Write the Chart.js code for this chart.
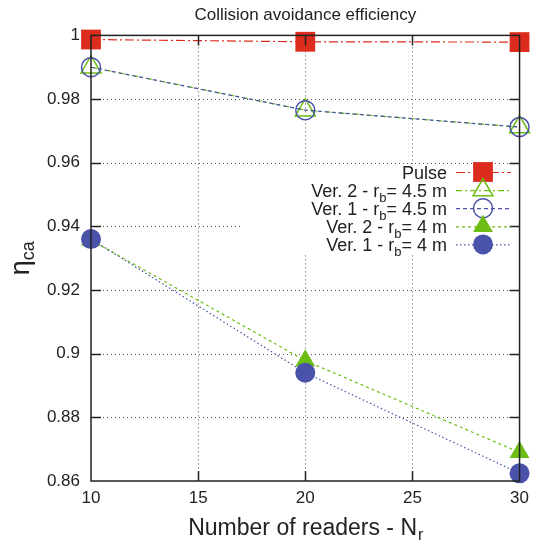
<!DOCTYPE html>
<html><head><meta charset="utf-8">
<script src="https://cdn.jsdelivr.net/npm/chart.js@4.4.1/dist/chart.umd.min.js"></script>
<style>html,body{margin:0;padding:0;background:#fff}#wrap{width:536px;height:543px}</style>
</head><body><div id="wrap"><canvas id="c" width="536" height="543"></canvas></div>
<script>
const readers = [10, 20, 30];
const pulse = [0.9987, 0.998, 0.9979];
const ver2_45 = [0.99, 0.9765, 0.9712];
const ver1_45 = [0.99, 0.9765, 0.9712];
const ver2_4 = [0.9357, 0.8978, 0.869];
const ver1_4 = [0.936, 0.894, 0.8624];
const xTicks = [10, 15, 20, 25, 30];
const yTicks = [0.86, 0.88, 0.9, 0.92, 0.94, 0.96, 0.98, 1];
const yTickLabels = ['0.86', '0.88', '0.9', '0.92', '0.94', '0.96', '0.98', '1'];
const labelMain = ['Pulse', 'Ver. 2 - r', 'Ver. 1 - r', 'Ver. 2 - r', 'Ver. 1 - r'];
const labelSub = ['', 'b', 'b', 'b', 'b'];
const labelTail = ['', '= 4.5 m', '= 4.5 m', '= 4 m', '= 4 m'];
const titleText = 'Collision avoidance efficiency';
const xTitleMain = 'Number of readers - N';
const xTitleSub = 'r';
const yTitleMain = 'η';
const yTitleSub = 'ca';

const FONT = "'Liberation Sans', Arial, Helvetica, sans-serif";
const RED = '#dc2c1e', GREEN = '#6cbd14', BLUE = '#4a52aa';

const styles = [
  {color: RED, dash: [9, 3, 2, 3], point: 'rect', r: 14, fill: RED, bw: 0},
  {color: GREEN, dash: [6, 3, 2, 3], point: 'triangle', r: 11.5, fill: 'rgba(0,0,0,0)', bw: 1.5},
  {color: BLUE, dash: [4, 3], point: 'circle', r: 9.5, fill: 'rgba(0,0,0,0)', bw: 1.5},
  {color: GREEN, dash: [3, 3], point: 'triangle', r: 11.5, fill: GREEN, bw: 0},
  {color: BLUE, dash: [1.5, 2.5], point: 'circle', r: 10, fill: BLUE, bw: 0}
];
const seriesValues = [pulse, ver2_45, ver1_45, ver2_4, ver1_4];

function drawMarker(ctx, s, x, y) {
  ctx.save();
  ctx.setLineDash([]);
  ctx.beginPath();
  if (s.point === 'rect') {
    const h = Math.SQRT1_2 * s.r;
    ctx.rect(x - h, y - h, 2 * h, 2 * h);
  } else if (s.point === 'triangle') {
    for (let k = 0; k < 3; k++) {
      const a = k * 2 * Math.PI / 3;
      const px = x + Math.sin(a) * s.r, py = y - Math.cos(a) * s.r;
      if (k === 0) ctx.moveTo(px, py); else ctx.lineTo(px, py);
    }
    ctx.closePath();
  } else {
    ctx.arc(x, y, s.r, 0, Math.PI * 2);
  }
  ctx.fillStyle = s.fill;
  ctx.fill();
  if (s.bw > 0) { ctx.lineWidth = s.bw; ctx.strokeStyle = s.color; ctx.stroke(); }
  ctx.restore();
}

const deco = {
  id: 'deco',
  beforeDatasetsDraw(chart) {
    const {ctx, chartArea: a, scales: {x, y}} = chart;
    ctx.save();
    ctx.strokeStyle = '#555';
    ctx.lineWidth = 1;
    ctx.setLineDash([1, 3]);
    xTicks.forEach(v => {
      if (v === x.min || v === x.max) return;
      const px = Math.round(x.getPixelForValue(v)) + 0.5;
      ctx.beginPath(); ctx.moveTo(px, a.top); ctx.lineTo(px, a.bottom); ctx.stroke();
    });
    yTicks.forEach(v => {
      if (Math.abs(v - y.min) < 1e-9 || Math.abs(v - y.max) < 1e-9) return;
      const py = Math.round(y.getPixelForValue(v)) + 0.5;
      ctx.beginPath(); ctx.moveTo(a.left, py); ctx.lineTo(a.right, py); ctx.stroke();
    });
    ctx.setLineDash([]);
    // opaque key box
    ctx.fillStyle = '#fff';
    ctx.fillRect(240, 164, a.right - 241, 90);
    ctx.restore();
  },
  afterDatasetsDraw(chart) {
    const {ctx, chartArea: a, scales: {x, y}} = chart;
    ctx.save();
    ctx.strokeStyle = '#222';
    ctx.lineWidth = 1.5;
    ctx.setLineDash([]);
    ctx.strokeRect(a.left, a.top, a.right - a.left, a.bottom - a.top);
    const tl = 10;
    xTicks.forEach(v => {
      if (v === x.min || v === x.max) return;
      const px = Math.round(x.getPixelForValue(v)) + 0.5;
      ctx.beginPath(); ctx.moveTo(px, a.bottom); ctx.lineTo(px, a.bottom - tl);
      ctx.moveTo(px, a.top); ctx.lineTo(px, a.top + tl); ctx.stroke();
    });
    yTicks.forEach(v => {
      if (Math.abs(v - y.min) < 1e-9 || Math.abs(v - y.max) < 1e-9) return;
      const py = Math.round(y.getPixelForValue(v)) + 0.5;
      ctx.beginPath(); ctx.moveTo(a.left, py); ctx.lineTo(a.left + tl, py);
      ctx.moveTo(a.right, py); ctx.lineTo(a.right - tl, py); ctx.stroke();
    });
    ctx.restore();
  },
  afterDraw(chart) {
    const {ctx, chartArea: a} = chart;
    ctx.save();
    // key
    const textRight = 447, lineL = 456, lineR = 511, markX = 483;
    const rowY0 = 172, rowStep = 18.1;
    ctx.fillStyle = '#222';
    ctx.textBaseline = 'alphabetic';
    ctx.textAlign = 'left';
    for (let i = 0; i < styles.length; i++) {
      const s = styles[i];
      const ry = rowY0 + i * rowStep;
      ctx.font = '18px ' + FONT;
      const w1 = ctx.measureText(labelMain[i]).width;
      const w3 = ctx.measureText(labelTail[i]).width;
      ctx.font = '13px ' + FONT;
      const w2 = labelSub[i] ? ctx.measureText(labelSub[i]).width : 0;
      const x0 = textRight - (w1 + w2 + w3);
      ctx.font = '18px ' + FONT;
      ctx.fillText(labelMain[i], x0, ry + 6.5);
      if (labelSub[i]) {
        ctx.font = '13px ' + FONT;
        ctx.fillText(labelSub[i], x0 + w1, ry + 12);
        ctx.font = '18px ' + FONT;
        ctx.fillText(labelTail[i], x0 + w1 + w2, ry + 6.5);
      }
      ctx.save();
      ctx.strokeStyle = s.color;
      ctx.lineWidth = 1.2;
      ctx.setLineDash(s.dash);
      ctx.beginPath(); ctx.moveTo(lineL, ry + 0.5); ctx.lineTo(lineR, ry + 0.5); ctx.stroke();
      ctx.restore();
      drawMarker(ctx, s, markX, ry);
    }
    // x axis title
    ctx.fillStyle = '#222';
    ctx.font = '23px ' + FONT;
    const xw1 = ctx.measureText(xTitleMain).width;
    ctx.font = '16px ' + FONT;
    const xw2 = ctx.measureText(xTitleSub).width;
    const cx = (a.left + a.right) / 2;
    const xs = cx - (xw1 + xw2) / 2;
    ctx.font = '23px ' + FONT;
    ctx.fillText(xTitleMain, xs, 535);
    ctx.font = '16px ' + FONT;
    ctx.fillText(xTitleSub, xs + xw1 + 1, 540);
    // y axis title
    ctx.save();
    ctx.translate(29, (a.top + a.bottom) / 2);
    ctx.rotate(-Math.PI / 2);
    ctx.font = '27px ' + FONT;
    const yw1 = ctx.measureText(yTitleMain).width;
    ctx.font = '18px ' + FONT;
    const yw2 = ctx.measureText(yTitleSub).width;
    const ys = -(yw1 + yw2) / 2;
    ctx.font = '27px ' + FONT;
    ctx.fillText(yTitleMain, ys, 0);
    ctx.font = '18px ' + FONT;
    ctx.fillText(yTitleSub, ys + yw1, 5);
    ctx.restore();
    ctx.restore();
  }
};

const orders = [5, 4, 3, 2, 1];
const datasets = seriesValues.map((vals, i) => {
  const s = styles[i];
  return {
    label: labelMain[i] + labelSub[i] + labelTail[i],
    data: readers.map((xv, j) => ({x: xv, y: vals[j]})),
    borderColor: s.color,
    borderWidth: 1.2,
    borderDash: s.dash,
    fill: false,
    tension: 0,
    pointStyle: s.point,
    pointRadius: s.r,
    pointHoverRadius: s.r,
    pointBackgroundColor: s.fill,
    pointBorderColor: s.color,
    pointBorderWidth: s.bw,
    order: orders[i],
    clip: false
  };
});

new Chart(document.getElementById('c'), {
  type: 'line',
  data: {datasets},
  options: {
    responsive: false,
    animation: false,
    devicePixelRatio: 1,
    layout: {padding: {left: 0, right: 14, top: 0, bottom: 0}},
    plugins: {
      legend: {display: false},
      tooltip: {enabled: false},
      title: {
        display: true, text: titleText, fullSize: false,
        font: {family: FONT, size: 17, weight: 'normal'}, color: '#222',
        padding: {top: 5, bottom: 10}
      }
    },
    scales: {
      x: {
        type: 'linear', min: 10, max: 30,
        afterBuildTicks: s => { s.ticks = xTicks.map(v => ({value: v})); },
        grid: {display: false, drawTicks: false},
        border: {display: false},
        ticks: {font: {family: FONT, size: 17}, color: '#222', padding: 7, maxRotation: 0, autoSkip: false},
        afterFit: s => { s.height = 62; }
      },
      y: {
        type: 'linear', min: 0.86, max: 1,
        afterBuildTicks: s => { s.ticks = yTicks.map(v => ({value: v})); },
        grid: {display: false, drawTicks: false},
        border: {display: false},
        ticks: {font: {family: FONT, size: 17}, color: '#222', padding: 11, autoSkip: false,
          callback: (v, i) => yTickLabels[i]},
        afterFit: s => { s.width = 91; }
      }
    }
  },
  plugins: [deco]
});
</script>
</body></html>
